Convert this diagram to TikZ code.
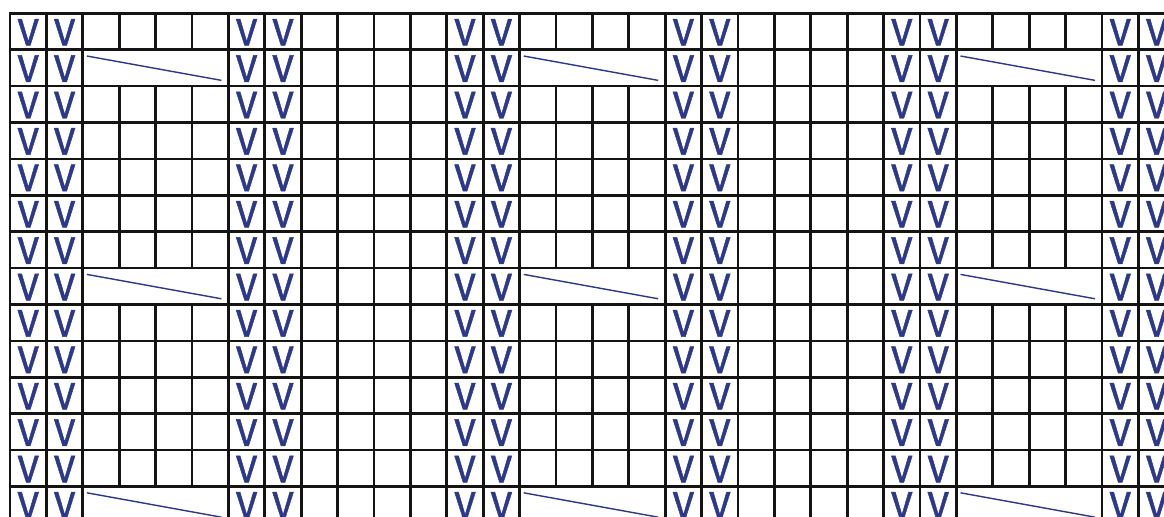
\documentclass[tikz,border=0pt]{standalone}
\usepackage{fontspec}
\newfontfamily\stitchfont{Fira Sans}[FakeBold=1.2]
\definecolor{stitchblue}{RGB}{44,56,138}
\tikzset{
  gridline/.style={line width=2.1pt,black!92,line cap=rect},
  slipst/.style={inner sep=0pt,text=stitchblue,font=\stitchfont\fontsize{30}{30}\selectfont},
  cablebox/.style={minimum width=4cm,minimum height=1cm,inner sep=0pt},
  cableline/.style={line width=1.1pt,stitchblue}
}
\begin{document}
\begin{tikzpicture}[x=1cm,y=1cm]
\useasboundingbox (-0.275,0.366) rectangle (31.703,-13.837);
\clip (-0.275,0.366) rectangle (31.703,-13.837);
% horizontal lines
\foreach \r in {0,...,14}
  \draw[gridline] (0,-\r) -- (33,-\r);
% vertical lines, broken where the cable cells are merged
\foreach \c in {0,...,32}{
  \pgfmathtruncatemacro{\m}{mod(\c,12)}
  \pgfmathtruncatemacro{\gap}{and(\m>2,\m<6)}
  \ifnum\gap=1
    \draw[gridline] (\c,0) -- (\c,-1) (\c,-2) -- (\c,-7) (\c,-8) -- (\c,-13);
  \else
    \draw[gridline] (\c,0) -- (\c,-14);
  \fi
}
% slipped stitches
\foreach \p in {0,...,5}
  \foreach \d in {0,1}
    \foreach \r in {0,...,13}{
      \pgfmathtruncatemacro{\c}{6*\p+\d}
      \node[slipst] (v\r-\c) at (\c+0.5,-\r-0.52) {V};
    }
% cable crossings
\foreach \r in {1,7,13}
  \foreach \b in {2,14,26}{
    \node[cablebox] (k\r-\b) at (\b+2,-\r-0.5) {};
    \draw[cableline] ([shift={(0.12,-0.18)}]k\r-\b.north west) -- ([shift={(-0.2,0.165)}]k\r-\b.south east);
  }
\end{tikzpicture}
\end{document}
